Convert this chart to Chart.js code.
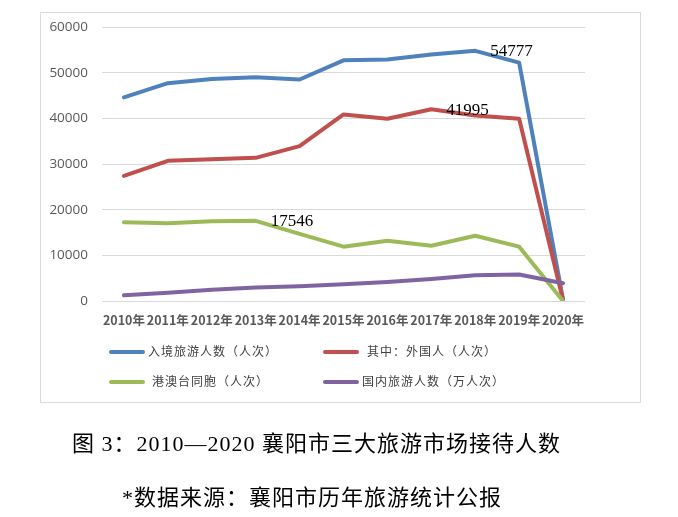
<!DOCTYPE html>
<html>
<head>
<meta charset="utf-8">
<script src="https://cdn.jsdelivr.net/npm/chart.js@4/dist/chart.umd.min.js"></script>
<style>
  html, body { margin: 0; padding: 0; background: #fff; }
  body { width: 678px; height: 517px; position: relative; overflow: hidden; }
  #frame { position: absolute; left: 40px; top: 12px; width: 599px; height: 389px; border: 1px solid #D9D9D9; }
  #c { position: absolute; left: 0; top: 0; }
  .leg { position: absolute; font-family: "Noto Sans CJK SC", sans-serif; font-size: 12px; letter-spacing: 1px; color: #404040; line-height: 14px; white-space: nowrap; }
  .sw { position: absolute; height: 4px; border-radius: 2px; width: 36px; }
  .cap { position: absolute; left: 0; font-family: "Liberation Serif", "Noto Sans CJK SC", serif; font-size: 22px; letter-spacing: 1px; color: #000; white-space: nowrap; }
</style>
</head>
<body>
<div id="frame"></div>
<canvas id="c" width="678" height="517"></canvas>
<div id="legend"></div>
<div class="cap" id="cap1" style="top:425px; left:72px;"></div>
<div class="cap" id="cap2" style="top:479px; left:122px;"></div>
<script>
const years = ["2010年","2011年","2012年","2013年","2014年","2015年","2016年","2017年","2018年","2019年","2020年"];
const seriesNames = ["入境旅游人数（人次）", "其中：外国人（人次）", "港澳台同胞（人次）", "国内旅游人数（万人次）"];
const inbound  = [44600, 47700, 48600, 49000, 48500, 52700, 52900, 54000, 54777, 52200, 300];
const foreign  = [27400, 30700, 31050, 31350, 33900, 40850, 39900, 41995, 40600, 39900, 150];
const hkMoTw   = [17250, 17050, 17450, 17546, 14700, 11900, 13200, 12100, 14300, 11900, 0];
const domestic = [1250, 1800, 2450, 2950, 3250, 3650, 4150, 4800, 5650, 5800, 3900];
const yTicks   = [0, 10000, 20000, 30000, 40000, 50000, 60000];
const colors   = ["#4F81BD", "#C0504D", "#9BBB59", "#8064A2"];
const caption1 = "图 3：2010—2020 襄阳市三大旅游市场接待人数";
const caption2 = "*数据来源：襄阳市历年旅游统计公报";
// data labels: [series index, category index]
const labelPoints = [[0, 8], [1, 7], [2, 3]];

const allSeries = [inbound, foreign, hkMoTw, domestic];

const labelPlugin = {
  id: 'pointLabels',
  afterDatasetsDraw(chart) {
    const ctx = chart.ctx;
    ctx.save();
    ctx.font = '17px "Liberation Serif", serif';
    ctx.fillStyle = '#000';
    ctx.textAlign = 'left';
    ctx.textBaseline = 'middle';
    labelPoints.forEach(([s, i]) => {
      const meta = chart.getDatasetMeta(s);
      const pt = meta.data[i];
      ctx.fillText(String(allSeries[s][i]), pt.x + 15, pt.y + 1);
    });
    ctx.restore();
  }
};

new Chart(document.getElementById('c'), {
  type: 'line',
  data: {
    labels: years,
    datasets: allSeries.map((d, k) => ({
      label: seriesNames[k],
      data: d,
      borderColor: colors[k],
      backgroundColor: colors[k],
      borderWidth: 4,
      pointRadius: 0,
      tension: 0,
      borderCapStyle: 'round',
      borderJoinStyle: 'round',
      order: 4 - k
    }))
  },
  options: {
    responsive: false,
    animation: false,
    events: [],
    layout: { padding: { top: 27, right: 93, left: 0, bottom: 0 } },
    plugins: { legend: { display: false }, tooltip: { enabled: false } },
    scales: {
      x: {
        offset: true,
        grid: { display: false, drawTicks: false },
        border: { display: false },
        ticks: { padding: 12, color: '#595959', font: { family: '"Noto Sans CJK SC", sans-serif', size: 12.5, weight: 'bold' }, maxRotation: 0, autoSkip: false },
        afterFit(scale) { scale.height = 216; }
      },
      y: {
        min: 0, max: 60000,
        afterBuildTicks(scale) { scale.ticks = yTicks.map(v => ({ value: v })); },
        grid: { color: '#D9D9D9', lineWidth: 1, drawTicks: false },
        border: { display: false },
        ticks: { padding: 14, color: '#595959', font: { family: '"Open Sans", sans-serif', size: 13.5 }, callback: v => String(v) },
        afterFit(scale) { scale.width = 102; }
      }
    }
  },
  plugins: [labelPlugin]
});

// legend (two columns)
const legPos = [[109, 352, 148], [323, 352, 367], [109, 382, 152], [323, 382, 362]];
const legendEl = document.getElementById('legend');
seriesNames.forEach((n, k) => {
  const [sx, sy, tx] = legPos[k];
  const sw = document.createElement('div');
  sw.className = 'sw';
  sw.style.left = sx + 'px'; sw.style.top = (sy - 2) + 'px'; sw.style.background = colors[k];
  legendEl.appendChild(sw);
  const t = document.createElement('div');
  t.className = 'leg';
  t.style.left = tx + 'px'; t.style.top = (sy - 8) + 'px';
  t.textContent = n;
  legendEl.appendChild(t);
});
document.getElementById('cap1').textContent = caption1;
document.getElementById('cap2').textContent = caption2;
</script>
</body>
</html>
